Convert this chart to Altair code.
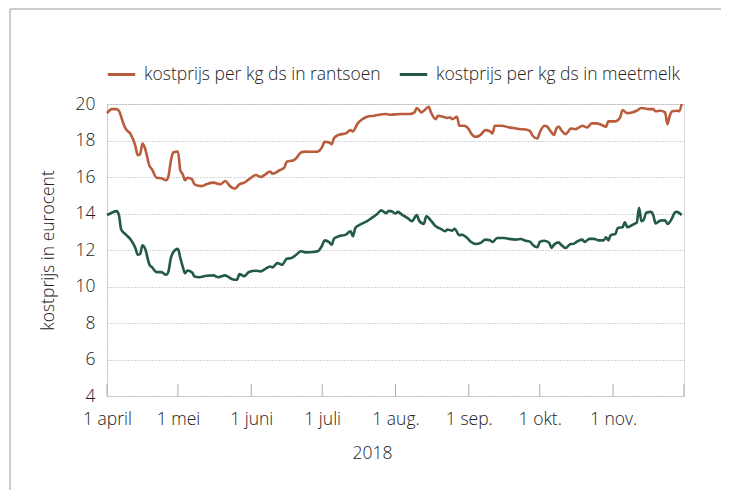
import altair as alt
import pandas as pd

# days since 1 April 2018 and values (eurocent per kg ds)
rantsoen_days = [0, 2, 4, 5, 7, 8, 10, 12, 13, 14, 15, 16, 18, 19, 21, 23, 25, 26, 27, 28, 30, 31, 32, 33, 34, 36, 37, 40, 42, 45, 48, 50, 52, 54, 56, 58, 60, 63, 65, 67, 69, 70, 73, 75, 76, 79, 80, 82, 84, 87, 89, 91, 92, 94, 95, 96, 98, 101, 103, 104, 106, 108, 110, 113, 115, 118, 120, 124, 128, 130, 131, 133, 134, 136, 137, 139, 140, 142, 144, 145, 146, 148, 149, 151, 153, 154, 156, 158, 160, 162, 163, 164, 167, 170, 172, 175, 177, 179, 180, 182, 183, 185, 186, 188, 189, 190, 191, 192, 194, 195, 196, 198, 200, 201, 203, 205, 207, 209, 211, 212, 215, 217, 218, 220, 222, 224, 226, 229, 231, 232, 234, 236, 237, 238, 239, 241, 242, 243]
rantsoen_vals = [19.5, 19.72, 19.72, 19.63, 18.9, 18.62, 18.35, 17.7, 17.2, 17.25, 17.83, 17.6, 16.6, 16.42, 15.96, 15.93, 15.82, 16.05, 16.88, 17.34, 17.4, 16.37, 16.15, 15.82, 15.96, 15.87, 15.6, 15.5, 15.6, 15.69, 15.6, 15.78, 15.5, 15.36, 15.6, 15.69, 15.87, 16.11, 16.0, 16.15, 16.3, 16.18, 16.37, 16.51, 16.84, 16.92, 17.03, 17.34, 17.39, 17.38, 17.39, 17.65, 17.93, 17.89, 17.8, 18.13, 18.31, 18.39, 18.57, 18.5, 18.94, 19.17, 19.3, 19.36, 19.41, 19.45, 19.41, 19.45, 19.45, 19.54, 19.78, 19.54, 19.63, 19.85, 19.54, 19.17, 19.36, 19.3, 19.23, 19.27, 19.17, 19.3, 18.81, 18.81, 18.62, 18.39, 18.2, 18.31, 18.57, 18.5, 18.39, 18.81, 18.81, 18.72, 18.68, 18.62, 18.6, 18.5, 18.26, 18.11, 18.44, 18.81, 18.77, 18.44, 18.3, 18.65, 18.77, 18.59, 18.35, 18.48, 18.66, 18.62, 18.75, 18.81, 18.72, 18.94, 18.94, 18.86, 18.75, 19.05, 19.05, 19.27, 19.67, 19.5, 19.54, 19.63, 19.78, 19.72, 19.72, 19.6, 19.63, 19.54, 18.9, 19.36, 19.6, 19.63, 19.6, 20.0]

meetmelk_days = [0, 2, 4, 5, 6, 8, 10, 12, 13, 14, 15, 16, 18, 19, 21, 23, 25, 26, 27, 29, 30, 31, 32, 33, 34, 36, 37, 39, 42, 45, 47, 50, 51, 53, 55, 56, 58, 60, 63, 65, 67, 69, 70, 72, 74, 76, 78, 80, 82, 84, 87, 89, 91, 92, 94, 95, 96, 98, 101, 103, 104, 105, 107, 110, 112, 114, 116, 118, 119, 120, 122, 123, 125, 127, 129, 131, 132, 134, 135, 137, 139, 141, 143, 144, 146, 147, 149, 150, 152, 154, 156, 158, 160, 162, 163, 165, 168, 170, 173, 175, 177, 179, 180, 182, 183, 185, 187, 188, 189, 191, 192, 194, 196, 197, 199, 201, 202, 204, 206, 208, 210, 211, 212, 213, 215, 216, 218, 219, 220, 222, 223, 224, 225, 226, 227, 228, 230, 231, 232, 234, 236, 237, 239, 240, 241, 243]
meetmelk_vals = [13.91, 14.04, 14.13, 13.94, 13.12, 12.84, 12.57, 12.11, 11.74, 11.78, 12.26, 12.11, 11.19, 11.06, 10.79, 10.79, 10.64, 10.83, 11.56, 12.02, 12.06, 11.56, 11.1, 10.73, 10.88, 10.77, 10.55, 10.51, 10.59, 10.61, 10.51, 10.61, 10.55, 10.4, 10.37, 10.68, 10.57, 10.79, 10.86, 10.83, 10.97, 11.1, 11.05, 11.28, 11.19, 11.52, 11.56, 11.74, 11.93, 11.87, 11.89, 11.93, 12.26, 12.53, 12.42, 12.29, 12.62, 12.75, 12.84, 13.03, 12.75, 13.21, 13.39, 13.58, 13.76, 13.94, 14.17, 14.02, 14.13, 14.13, 14.0, 14.09, 13.91, 13.76, 13.58, 13.91, 13.61, 13.43, 13.85, 13.61, 13.3, 13.17, 13.03, 13.12, 13.06, 13.16, 12.81, 12.84, 12.7, 12.44, 12.33, 12.39, 12.57, 12.53, 12.44, 12.66, 12.66, 12.61, 12.57, 12.6, 12.51, 12.44, 12.29, 12.15, 12.44, 12.51, 12.39, 12.11, 12.29, 12.42, 12.29, 12.11, 12.33, 12.33, 12.48, 12.57, 12.44, 12.61, 12.61, 12.53, 12.53, 12.7, 12.53, 12.81, 12.88, 13.21, 13.25, 13.52, 13.25, 13.36, 13.43, 13.49, 14.31, 13.58, 13.67, 14.04, 14.09, 13.91, 13.45, 13.61, 13.63, 13.43, 13.76, 14.04, 14.09, 13.91]

series_names = ["kostprijs per kg ds in rantsoen", "kostprijs per kg ds in meetmelk"]
series_colors = ["#b95c3d", "#235a43"]
month_starts = ["2018-04-01", "2018-05-01", "2018-06-01", "2018-07-01", "2018-08-01",
                "2018-09-01", "2018-10-01", "2018-11-01", "2018-12-01"]
y_ticks = [4, 6, 8, 10, 12, 14, 16, 18, 20]

start = pd.Timestamp("2018-04-01")
def frame(days, vals, name):
    return pd.DataFrame({
        "datum": [(start + pd.Timedelta(days=d)).strftime("%Y-%m-%dT00:00:00") for d in days],
        "waarde": vals,
        "reeks": name,
    })

df = pd.concat([frame(rantsoen_days, rantsoen_vals, series_names[0]),
                frame(meetmelk_days, meetmelk_vals, series_names[1])], ignore_index=True)
ticks_df = pd.DataFrame({"datum": [m + "T00:00:00" for m in month_starts]})
one = pd.DataFrame({"a": [0]})

W, H = 577, 292
FONT = "Open Sans"
FW = 300
FS = 17.5
TXT = "#222222"

x_scale = alt.Scale(domain=[alt.DateTime(year=2018, month=4, date=1),
                            alt.DateTime(year=2018, month=12, date=1)])

label_expr = ("month(datum.value) == 11 ? '' : '1 ' + "
              "['jan.','feb.','maart','april','mei','juni','juli','aug.','sep.','okt.','nov.',''][month(datum.value)]")

lines = alt.Chart(df).mark_line(strokeWidth=2.6, interpolate="monotone").encode(
    x=alt.X("datum:T", scale=x_scale,
            axis=alt.Axis(title="2018", values=[alt.DateTime(year=2018, month=m, date=1) for m in range(4, 13)],
                          labelExpr=label_expr, grid=False, ticks=False, domain=False,
                          labelFlush=False, labelOverlap=False,
                          labelPadding=14, labelFontSize=FS, labelColor=TXT, labelFont=FONT,
                          labelFontWeight=FW,
                          titleFontSize=FS, titleFontWeight=FW, titleColor=TXT, titleFont=FONT,
                          titleX=265, titleY=48, titleAnchor="middle", titleAlign="center")),
    y=alt.Y("waarde:Q", scale=alt.Scale(domain=[4, 20], nice=False, zero=False),
            axis=alt.Axis(title="kostprijs in eurocent", values=y_ticks, ticks=False,
                          grid=True, gridColor="#aaaaaa", gridDash=[1, 2], gridWidth=1,
                          domain=True, domainColor="#aaaaaa", domainDash=[1, 2], domainWidth=1,
                          labelPadding=12, labelFontSize=FS, labelColor=TXT, labelFont=FONT,
                          labelFontWeight=FW,
                          titleFontSize=FS, titleFontWeight=FW, titleColor=TXT, titleFont=FONT,
                          titlePadding=18)),
    color=alt.Color("reeks:N", scale=alt.Scale(domain=series_names, range=series_colors),
                    sort=series_names,
                    legend=alt.Legend(title=None, orient="none", direction="horizontal",
                                      legendX=-1, legendY=-45, symbolType="stroke",
                                      symbolSize=750, symbolStrokeWidth=3, labelFontSize=FS,
                                      labelColor=TXT, labelFont=FONT, labelFontWeight=FW,
                                      labelOffset=7, columnPadding=12, labelLimit=400)),
)

month_ticks = alt.Chart(ticks_df).mark_rule(color="#aaaaaa", strokeWidth=1).encode(
    x=alt.X("datum:T", scale=x_scale),
    y=alt.value(H - 12), y2=alt.value(H),
)

frame_top = alt.Chart(one).mark_rule(color="#cccccc", strokeWidth=2).encode(
    x=alt.value(-97), x2=alt.value(W + 40), y=alt.value(-95))
frame_left = alt.Chart(one).mark_rule(color="#cccccc", strokeWidth=2).encode(
    x=alt.value(-97), y=alt.value(-95), y2=alt.value(H + 100))

chart = alt.layer(frame_top, frame_left, month_ticks, lines).properties(
    width=W, height=H,
    autosize=alt.AutoSizeParams(type="none"),
    padding={"left": 99, "top": 96, "right": 37, "bottom": 94},
).configure_view(stroke=None).configure(font=FONT)

chart.save("out.html", embed_options={"renderer": "svg", "actions": False})
